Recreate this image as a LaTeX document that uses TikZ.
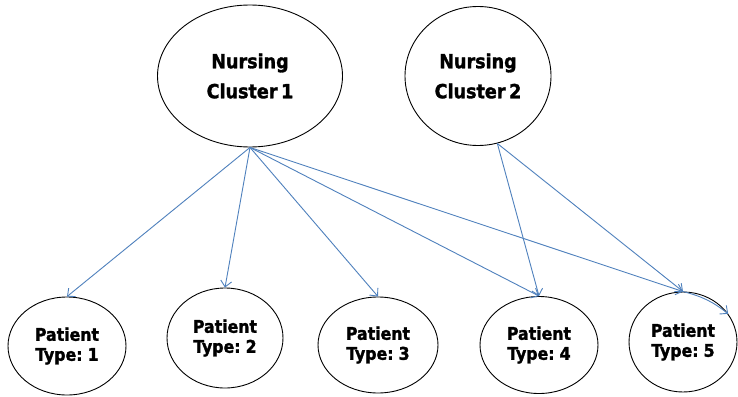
\documentclass[tikz,border=0pt]{standalone}
\usepackage{fontspec}
\newfontfamily\lblfont{DejaVu Sans Condensed}[BoldFeatures={FakeBold=1.6},WordSpace=0.6]
\usetikzlibrary{arrows.meta,shapes.geometric}
\definecolor{arrowblue}{RGB}{79,129,189}
\begin{document}
\begin{tikzpicture}[x=1pt,y=-1pt,
  ell/.style={draw=black,line width=0.9pt,ellipse,inner sep=0pt,align=center},
  bigtext/.style={font=\lblfont\bfseries\fontsize{19.5}{30}\selectfont},
  smalltext/.style={font=\lblfont\bfseries\fontsize{17.5}{20}\selectfont},
  conn/.style={draw=arrowblue,line width=0.9pt,-{Straight Barb[length=6pt,width=11pt]}}]
\useasboundingbox[fill=white] (0,0) rectangle (738,396);

\node[ell,bigtext,minimum width=185pt,minimum height=142pt] (c1) at (250,76) {Nursing\\Cluster 1};
\node[ell,bigtext,minimum width=146pt,minimum height=139pt] (c2) at (478,76) {Nursing\\Cluster 2};

\node[ell,smalltext,minimum width=118pt,minimum height=98pt] (t1) at (67,346) {Patient\\Type: 1};
\node[ell,smalltext,minimum width=116pt,minimum height=100pt] (t2) at (225,338) {Patient\\Type: 2};
\node[ell,smalltext,minimum width=120pt,minimum height=96pt] (t3) at (378,345) {Patient\\Type: 3};
\node[ell,smalltext,minimum width=118pt,minimum height=97pt] (t4) at (539,345) {Patient\\Type: 4};
\node[ell,smalltext,minimum width=108pt,minimum height=100pt] (t5) at (683,342) {Patient\\Type: 5};

\draw[conn] (c1.south) -- (t1.north);
\draw[conn] (c1.south) -- (t2.north);
\draw[conn] (c1.south) -- (t3.north);
\draw[conn] (c1.south) -- (t4.north);
\draw[conn] (c1.south) -- (t5.north);
\draw[conn] (c2.-74) -- (t4.north);
\draw[conn] (c2.-74) -- (t5.north);
\draw[conn] (t5.north) to[bend left=12] (t5.32);
\end{tikzpicture}
\end{document}
